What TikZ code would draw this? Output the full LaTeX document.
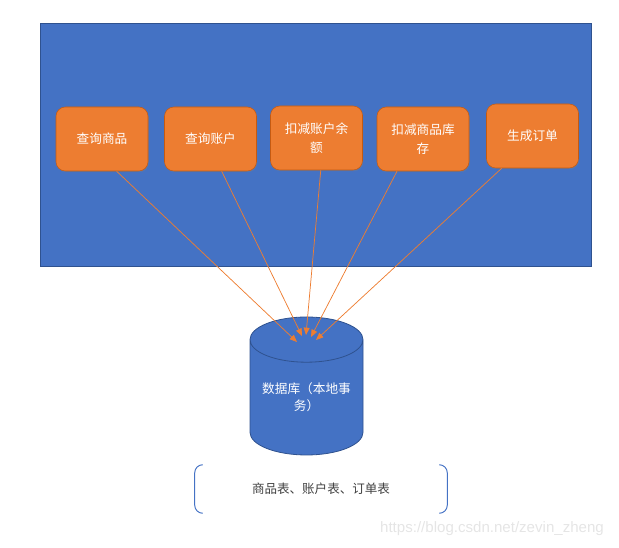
\documentclass[tikz,border=0pt]{standalone}
\usepackage{fontspec}
\newfontfamily\cjk{Noto Sans CJK SC}
\setsansfont{Liberation Sans}
\usetikzlibrary{shapes.geometric,arrows.meta,shadows}
\definecolor{pptblue}{HTML}{4472C4}
\definecolor{pptblueline}{HTML}{2F528F}
\definecolor{pptorange}{HTML}{ED7D31}
\definecolor{pptorangeline}{HTML}{C55A11}
\begin{document}
\begin{tikzpicture}[x=0.75pt,y=-0.75pt,%
% common options for the service boxes:
svc/.style = {rectangle, rounded corners=7pt, draw=pptorangeline, line width=0.4pt,
            fill=pptorange, text=white, font=\cjk\fontsize{9.5}{14}\selectfont,
            align=center, minimum width=69pt, minimum height=48pt, inner sep=0,
            drop shadow={opacity=0.35, shadow xshift=0.6pt, shadow yshift=-0.9pt}},
% common options for the database:
db/.style = {cylinder, shape border rotate=90, aspect=0.51, draw=pptblueline,
            line width=0.6pt, fill=pptblue, text=white, align=center, inner sep=0,
            font=\cjk\fontsize{9.5}{13}\selectfont,
            minimum width=84.75pt, minimum height=103.5pt},
% common options for the calls:
call/.style = {draw=pptorange, line width=0.55pt, -{Triangle[length=5.5pt,width=4.5pt]}}]
\useasboundingbox (0,0) rectangle (619,548);
\node[draw=pptblueline, fill=pptblue, line width=0.75pt, anchor=north west,
      minimum width=413.25pt, minimum height=182.25pt, inner sep=0] (app) at (40,23) {};
\node[svc] (Q1) at (102,139) {查询商品};
\node[svc] (Q2) at (210.5,139) {查询账户};
\node[svc] (D1) at (316.5,138) {扣减账户余\\额};
\node[svc] (D2) at (423,139) {扣减商品库\\存};
\node[svc] (G1) at (532.5,136) {生成订单};
\node[db, anchor=shape center] (DB) at (306.5,386) {数据库（本地事\\务）};
\coordinate (t1) at (297,342);
\coordinate (t2) at (302,336);
\coordinate (t3) at (306,335);
\coordinate (t4) at (311,337);
\coordinate (t5) at (316,340);
\draw[call] ([xshift=11pt]Q1.south) to (t1);
\draw[call] ([xshift=8.4pt]Q2.south) to (t2);
\draw[call] ([xshift=3.2pt]D1.south) to (t3);
\draw[call] ([xshift=-19.5pt]D2.south) to (t4);
\draw[call] ([xshift=-23.1pt]G1.south) to (t5);
\node[minimum width=189pt, minimum height=36pt, inner sep=0, text=black!75,
      font=\cjk\fontsize{9.4}{12}\selectfont] (T) at (321,489) {商品表、账户表、订单表};
\draw[pptblue, line width=0.75pt, rounded corners=6pt]
  ([xshift=6pt]T.north west) -- (T.north west) -- (T.south west) -- ([xshift=6pt]T.south west);
\draw[pptblue, line width=0.75pt, rounded corners=6pt]
  ([xshift=-6pt]T.north east) -- (T.north east) -- (T.south east) -- ([xshift=-6pt]T.south east);
\node[text=black!10, font=\sffamily\fontsize{11.3}{13}\selectfont] (wm) at (492,529)
  {https://blog.csdn.net/zevin\_zheng};
\end{tikzpicture}
\end{document}
